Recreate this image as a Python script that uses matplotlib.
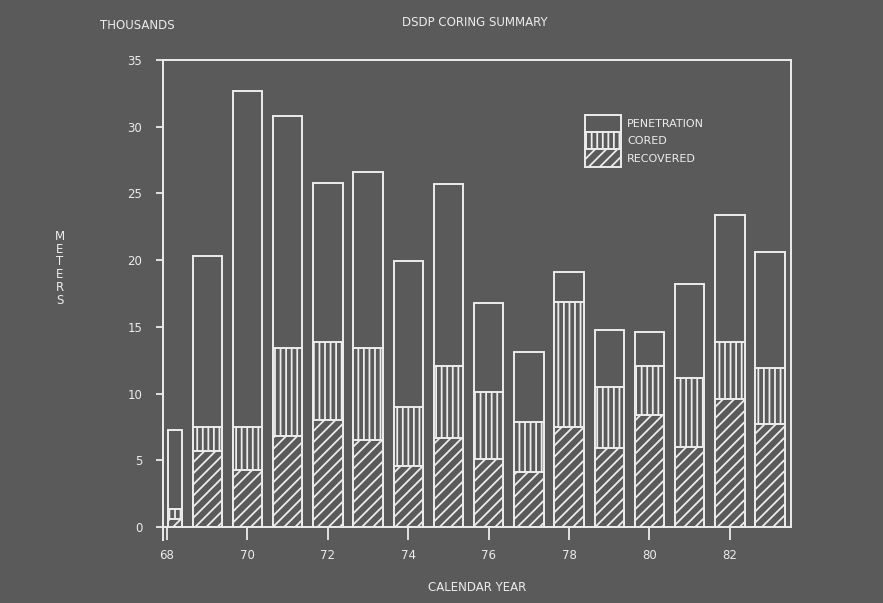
import matplotlib
matplotlib.use("Agg")
import matplotlib.pyplot as plt
from matplotlib import font_manager
from matplotlib.patches import Patch

# DSDP coring summary, thousands of meters per calendar year
years       = [68, 69, 70, 71, 72, 73, 74, 75, 76, 77, 78, 79, 80, 81, 82, 83]
penetration = [7.3, 20.3, 32.7, 30.8, 25.8, 26.6, 19.9, 25.7, 16.8, 13.1, 19.1, 14.8, 14.6, 18.2, 23.4, 20.6]
cored       = [1.35, 7.5, 7.5, 13.4, 13.9, 13.4, 9.0, 12.1, 10.1, 7.9, 16.9, 10.5, 12.1, 11.2, 13.9, 11.9]
recovered   = [0.6, 5.7, 4.3, 6.8, 8.0, 6.5, 4.6, 6.7, 5.1, 4.1, 7.5, 5.9, 8.4, 6.0, 9.6, 7.7]

xticks = [68, 70, 72, 74, 76, 78, 80, 82]
yticks = [0, 5, 10, 15, 20, 25, 30, 35]

BG = "#5a5a5a"
FG = "#ececec"

names = {f.name for f in font_manager.fontManager.ttflist}
font = "Liberation Sans Narrow" if "Liberation Sans Narrow" in names else "DejaVu Sans"
plt.rcParams["font.family"] = font
plt.rcParams["hatch.linewidth"] = 1.3
plt.rcParams["hatch.color"] = FG

fig = plt.figure(figsize=(8.83, 6.03), dpi=100, facecolor=BG)
ax = fig.add_axes([0.1846, 0.126, 0.7112, 0.7745], facecolor=BG)

width = 0.73
lefts = []
widths = []
for y in years:
    left = y - width / 2
    if left < years[0]:
        # first bar is cut off at the start of the axis
        lefts.append(years[0] + 0.02)
        widths.append(y + width / 2 - years[0] - 0.02)
    else:
        lefts.append(left)
        widths.append(width)

kw = dict(align="edge", edgecolor=FG, linewidth=1.4)
ax.bar(lefts, penetration, widths, facecolor="none", **kw)
ax.bar(lefts, cored, widths, facecolor=BG, hatch="|||", **kw)
ax.bar(lefts, recovered, widths, facecolor=BG, hatch="///", **kw)

ax.set_xlim(67.9, 83.52)
ax.set_ylim(0, 35)
ax.set_xticks(xticks)
ax.set_yticks(yticks)
ax.tick_params(axis="x", colors=FG, length=9.5, width=1.3, pad=6, labelsize=8.5)
ax.tick_params(axis="y", colors=FG, length=5, width=1.3, pad=10, labelsize=8.5)
for s in ax.spines.values():
    s.set_color(FG)
    s.set_linewidth(1.4)
ax.spines["left"].set_bounds(-1, 35)

handles = [
    Patch(facecolor=BG, edgecolor=FG, linewidth=1.4, label="PENETRATION"),
    Patch(facecolor=BG, edgecolor=FG, linewidth=1.4, hatch="|||", label="CORED"),
    Patch(facecolor=BG, edgecolor=FG, linewidth=1.4, hatch="///", label="RECOVERED"),
]
leg = ax.legend(handles=handles, loc="upper left", bbox_to_anchor=(0.672, 0.882),
                frameon=False, fontsize=8, labelspacing=0, handleheight=2.0,
                handlelength=3.2, handletextpad=0.6, borderpad=0, borderaxespad=0)
for t in leg.get_texts():
    t.set_color(FG)

fig.text(0.538, 0.963, "DSDP CORING SUMMARY", color=FG, fontsize=8.5, ha="center", va="center")
fig.text(0.113, 0.958, "THOUSANDS", color=FG, fontsize=8.5, ha="left", va="center")
fig.text(0.540, 0.025, "CALENDAR YEAR", color=FG, fontsize=8.5, ha="center", va="center")
fig.text(0.068, 0.555, "\n".join("METERS"), color=FG, fontsize=8.5, ha="center", va="center",
         linespacing=0.98)

fig.savefig("out.png", dpi=100, facecolor=BG)
